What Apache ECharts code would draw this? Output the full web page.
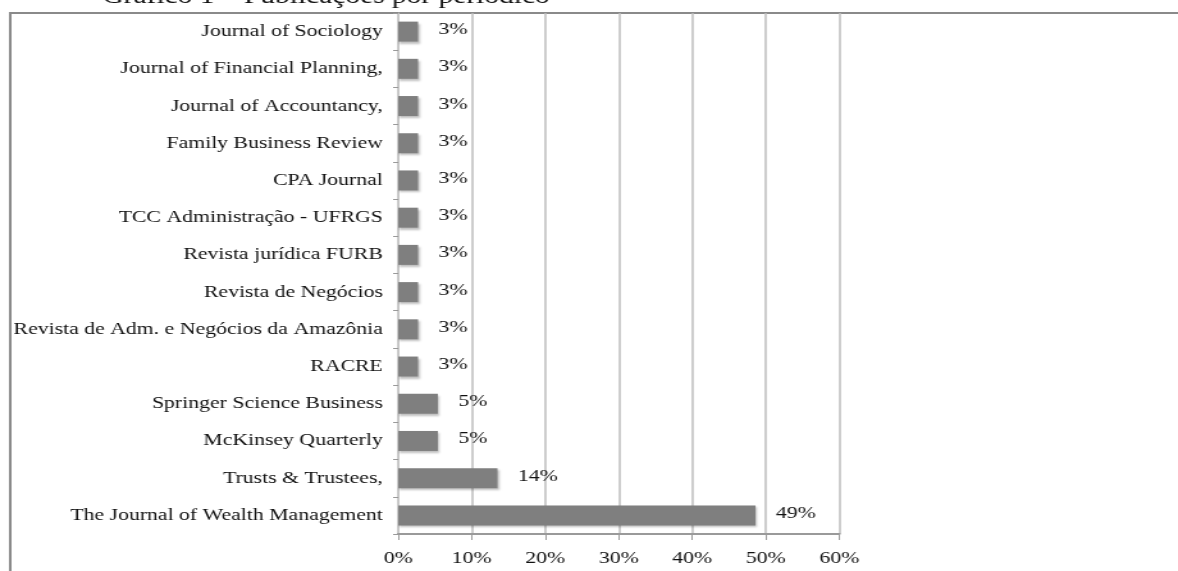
<!DOCTYPE html>
<html>
<head>
<meta charset="utf-8">
<script src="https://cdn.jsdelivr.net/npm/echarts@6/dist/echarts.min.js"></script>
<style>
  html, body { margin: 0; padding: 0; background: #fff; overflow: hidden; }
  #wrap { width: 1178px; height: 571px; overflow: hidden; }
  /* the source picture is stretched sideways, so the chart is too */
  #chart { width: 920px; height: 571px; transform: scaleX(1.2804); transform-origin: 0 0; }
</style>
</head>
<body>
<div id="wrap"><div id="chart"></div></div>
<script>
// periodicals, top to bottom
var periodicos = [
  'Journal of Sociology',
  'Journal of Financial Planning,',
  'Journal of Accountancy,',
  'Family Business Review',
  'CPA Journal',
  'TCC Administração - UFRGS',
  'Revista jurídica FURB',
  'Revista de Negócios',
  'Revista de Adm. e Negócios da Amazônia',
  'RACRE',
  'Springer Science Business',
  'McKinsey Quarterly',
  'Trusts & Trustees,',
  'The Journal of Wealth Management'
];
// share of publications (%)
var percentuais = [2.7, 2.7, 2.7, 2.7, 2.7, 2.7, 2.7, 2.7, 2.7, 2.7, 5.4, 5.4, 13.5, 48.6];
var ticksX = [0, 10, 20, 30, 40, 50, 60];

var fonte = 'Liberation Serif, Times New Roman, serif';
var chart = echarts.init(document.getElementById('chart'), null, { renderer: 'canvas' });

var option = {
  animation: false,
  backgroundColor: '#fff',
  grid: { left: 311, right: 264.5, top: 13, bottom: 37, containLabel: false },
  graphic: [
    {
      type: 'rect',
      shape: { x: 8, y: 13, width: 1000, height: 700 },
      style: { fill: 'none', stroke: '#8a8a8a', lineWidth: 2 },
      silent: true
    },
    {
      type: 'text',
      x: 80, y: 8,
      style: {
        text: 'Gráfico 1 – Publicações por periódico',
        font: '23px ' + fonte,
        fill: '#111',
        verticalAlign: 'bottom'
      }
    }
  ],
  xAxis: {
    type: 'value',
    min: ticksX[0],
    max: ticksX[ticksX.length - 1],
    interval: 10,
    axisLine: { show: true, lineStyle: { color: '#9a9a9a', width: 2 } },
    axisTick: { show: true, length: 6, lineStyle: { color: '#9a9a9a' } },
    axisLabel: {
      formatter: '{value}%',
      fontFamily: fonte,
      fontSize: 17,
      color: '#111',
      margin: 16
    },
    splitLine: { show: true, lineStyle: { color: '#bdbdbd', width: 1.5 } }
  },
  yAxis: {
    type: 'category',
    inverse: true,
    data: periodicos,
    axisLine: { show: true, lineStyle: { color: '#c4c4c4', width: 1 } },
    axisTick: { show: true, length: 4, lineStyle: { color: '#9a9a9a' } },
    axisLabel: {
      fontFamily: fonte,
      fontSize: 17,
      color: '#111',
      margin: 12
    }
  },
  series: [{
    type: 'bar',
    data: percentuais,
    barWidth: 20,
    itemStyle: {
      color: '#7f7f7f',
      shadowColor: 'rgba(0,0,0,0.25)',
      shadowBlur: 2,
      shadowOffsetX: 1,
      shadowOffsetY: 2
    },
    label: {
      show: true,
      position: 'right',
      distance: 16,
      fontFamily: fonte,
      fontSize: 17,
      color: '#111',
      offset: [0, -2],
      formatter: function (p) { return Math.round(p.value) + '%'; }
    }
  }]
};
chart.setOption(option);
</script>
</body>
</html>
